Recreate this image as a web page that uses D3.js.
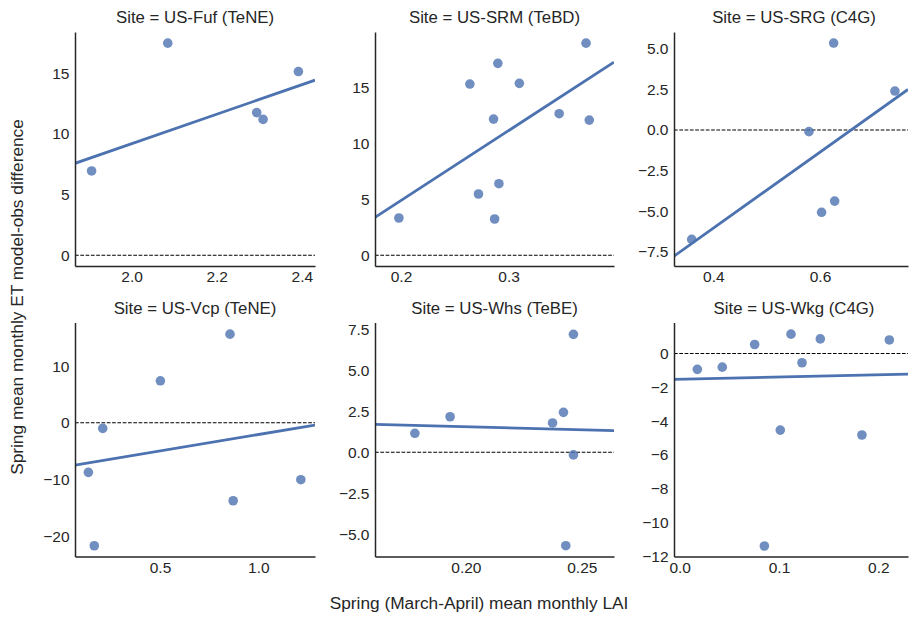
<!DOCTYPE html>
<html>
<head>
<meta charset="utf-8">
<script src="https://cdn.jsdelivr.net/npm/d3@7"></script>
<style>
  html, body { margin: 0; padding: 0; background: #fff; }
  svg { display: block; font-family: "Liberation Sans", Arial, sans-serif; }
</style>
</head>
<body>
<svg id="chart" width="909" height="619"></svg>
<script>
// ---------------- data ----------------
const sites = ["US-Fuf (TeNE)", "US-SRM (TeBD)", "US-SRG (C4G)", "US-Vcp (TeNE)", "US-Whs (TeBE)", "US-Wkg (C4G)"];

const lai_Fuf = [1.906, 2.085, 2.294, 2.309, 2.392];
const diff_Fuf = [6.95, 17.48, 11.76, 11.2, 15.14];

const lai_SRM = [0.198, 0.264, 0.290, 0.310, 0.286, 0.272, 0.291, 0.287, 0.347, 0.372, 0.375];
const diff_SRM = [3.34, 15.34, 17.19, 15.4, 12.2, 5.49, 6.41, 3.25, 12.68, 19.0, 12.11];

const lai_SRG = [0.3595, 0.5793, 0.6256, 0.603, 0.6275, 0.7405];
const diff_SRG = [-6.74, -0.1, 5.36, -5.07, -4.38, 2.40];

const lai_Vcp = [0.856, 0.502, 0.209, 0.136, 0.166, 0.872, 1.216];
const diff_Vcp = [15.64, 7.41, -0.99, -8.75, -21.7, -13.76, -10.05];

const lai_Whs = [0.178, 0.1932, 0.2374, 0.2421, 0.2464, 0.2464, 0.2431];
const diff_Whs = [1.16, 2.17, 1.79, 2.44, 7.21, -0.16, -5.71];

const lai_Wkg = [0.0178, 0.0429, 0.0755, 0.1121, 0.1232, 0.1416, 0.2111, 0.1013, 0.1835, 0.0853];
const diff_Wkg = [-0.94, -0.81, 0.53, 1.14, -0.55, 0.86, 0.80, -4.53, -4.82, -11.38];

// regression fit lines: value at left and right axis limits
const fitLeft = [7.58, 3.40, -7.77, -7.46, 1.71, -1.53];
const fitRight = [14.43, 17.3, 2.5, -0.41, 1.32, -1.22];

// axis limits
const xLimits = [[1.867, 2.431], [0.1758, 0.398], [0.3263, 0.765], [0.068, 1.288], [0.1608, 0.2639], [-0.0057, 0.2299]];
const yLimits = [[-0.88, 18.4], [-0.96, 20.0], [-8.38, 6.04], [-23.6, 17.7], [-6.37, 7.93], [-12.0, 1.83]];

// tick labels
const xTicks = [[2.0, 2.2, 2.4], [0.2, 0.3], [0.4, 0.6], [0.5, 1.0], [0.20, 0.25], [0.0, 0.1, 0.2]];
const xTickFmt = [".1f", ".1f", ".1f", ".1f", ".2f", ".1f"];
const yTicks = [[0, 5, 10, 15], [0, 5, 10, 15], [-7.5, -5.0, -2.5, 0.0, 2.5, 5.0], [-20, -10, 0, 10], [-5.0, -2.5, 0.0, 2.5, 5.0, 7.5], [-12, -10, -8, -6, -4, -2, 0]];
const yTickFmt = ["d", "d", ".1f", "d", ".1f", "d"];

const xLabel = "Spring (March-April) mean monthly LAI";
const yLabel = "Spring mean monthly ET model-obs difference";

const laiAll = [lai_Fuf, lai_SRM, lai_SRG, lai_Vcp, lai_Whs, lai_Wkg];
const diffAll = [diff_Fuf, diff_SRM, diff_SRG, diff_Vcp, diff_Whs, diff_Wkg];

// ---------------- layout ----------------
const colLeft = [75, 375, 674];
const colWidth = [240, 239, 234];
const rowTop = [32, 322.5];
const panelH = 234;
const blue = "#4C72B0";
const ink = "#262626";

const svg = d3.select("#chart");
const fmtMinus = s => s.replace("-", "\u2212");

sites.forEach((site, i) => {
  const col = i % 3, row = Math.floor(i / 3);
  const w = colWidth[col], h = panelH;
  const g = svg.append("g").attr("transform", `translate(${colLeft[col]},${rowTop[row]})`);

  const x = d3.scaleLinear().domain(xLimits[i]).range([0, w]);
  const y = d3.scaleLinear().domain(yLimits[i]).range([h, 0]);

  // clip
  const cid = "clip" + i;
  g.append("clipPath").attr("id", cid).append("rect").attr("width", w).attr("height", h);
  const plot = g.append("g").attr("clip-path", `url(#${cid})`);

  // zero reference line
  plot.append("line")
    .attr("x1", 0).attr("x2", w)
    .attr("y1", y(0)).attr("y2", y(0))
    .attr("stroke", "#000").attr("stroke-width", 1.1)
    .attr("stroke-dasharray", "3.7,1.6");

  // points
  const pts = laiAll[i].map((v, k) => ({ x: v, y: diffAll[i][k] }));
  plot.selectAll("circle").data(pts).enter().append("circle")
    .attr("cx", d => x(d.x)).attr("cy", d => y(d.y))
    .attr("r", 4.8)
    .attr("fill", blue).attr("fill-opacity", 0.8);

  // regression line
  plot.append("line")
    .attr("x1", x(xLimits[i][0])).attr("y1", y(fitLeft[i]))
    .attr("x2", x(xLimits[i][1])).attr("y2", y(fitRight[i]))
    .attr("stroke", blue).attr("stroke-width", 2.8);

  // axes
  const xf = d3.format(xTickFmt[i]);
  const yf = d3.format(yTickFmt[i]);
  const xAxis = d3.axisBottom(x).tickValues(xTicks[i]).tickSize(0).tickPadding(5)
    .tickFormat(d => fmtMinus(xf(d)));
  const yAxis = d3.axisLeft(y).tickValues(yTicks[i]).tickSize(0).tickPadding(5.5)
    .tickFormat(d => fmtMinus(yf(d)));

  const gx = g.append("g").attr("transform", `translate(0,${h})`).call(xAxis);
  const gy = g.append("g").call(yAxis);
  [gx, gy].forEach(a => {
    a.select(".domain").attr("stroke", ink).attr("stroke-width", 1.5);
    a.selectAll("text").attr("fill", ink).style("font-size", "15.5px")
      .style("font-family", "'Liberation Sans', Arial, sans-serif");
  });

  // title
  g.append("text")
    .attr("x", w / 2 + (col === 2 ? 3 : 0)).attr("y", -9)
    .attr("text-anchor", "middle")
    .attr("fill", ink)
    .style("font-size", "16.8px")
    .text("Site = " + site);
});

// shared labels
svg.append("text")
  .attr("x", 479).attr("y", 609)
  .attr("text-anchor", "middle")
  .attr("fill", ink)
  .style("font-size", "17.3px")
  .text(xLabel);

svg.append("text")
  .attr("transform", "translate(23,297) rotate(-90)")
  .attr("text-anchor", "middle")
  .attr("fill", ink)
  .style("font-size", "17.3px")
  .text(yLabel);
</script>
</body>
</html>
